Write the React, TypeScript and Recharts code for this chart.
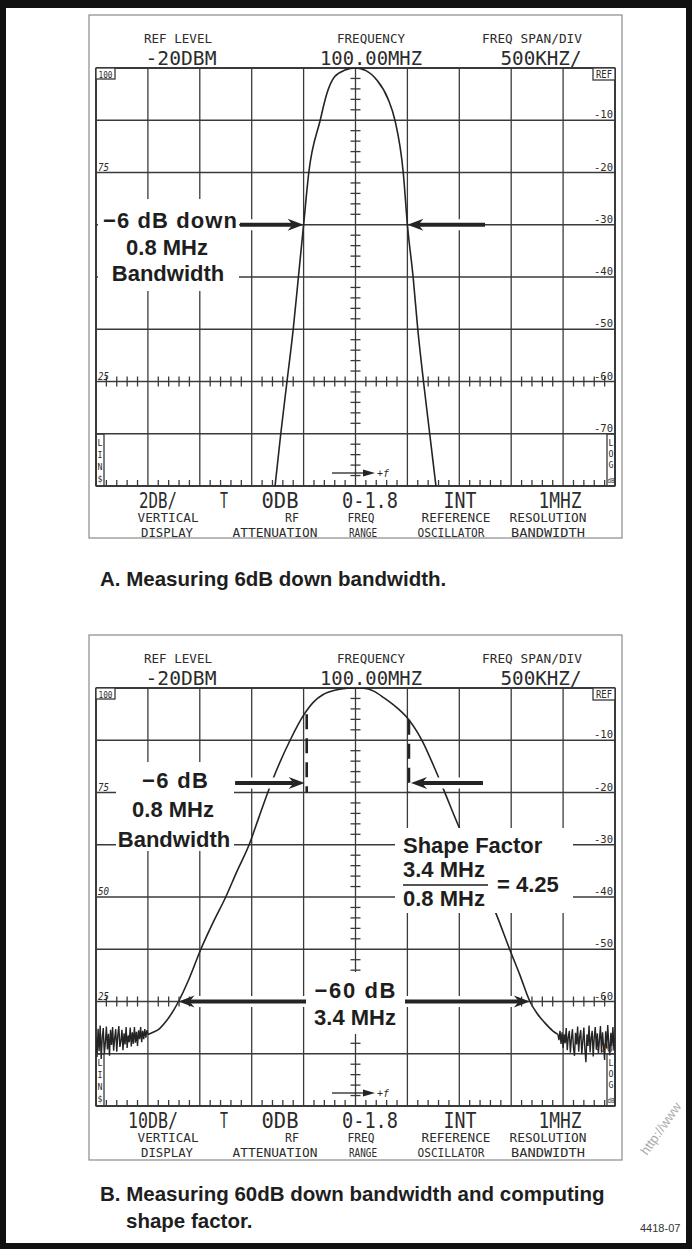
import React from 'react'
import { ComposedChart, Line, Scatter, XAxis, YAxis, ReferenceLine } from 'recharts'

document.body.style.margin = '0'

// centre 100.00 MHz, 500 kHz/div -> x is MHz away from centre
const FREQ_GRID = [-2.5, -2, -1.5, -1, -0.5, 0, 0.5, 1, 1.5, 2, 2.5]
const LEVEL_GRID_A = [0, -2, -4, -6, -8, -10, -12, -14, -16] // 2 dB/div
const LEVEL_GRID_B = [0, -10, -20, -30, -40, -50, -60, -70, -80] // 10 dB/div

const RIGHT_LABELS = ['-10', '-20', '-30', '-40', '-50', '-60', '-70']
const LEFT_LABELS = [
  { div: 2, text: '75' },
  { div: 4, text: '50' },
  { div: 6, text: '25' },
]

const HEADER_TITLES = ['REF LEVEL', 'FREQUENCY', 'FREQ SPAN/DIV']
const HEADER_VALUES = ['-20DBM', '100.00MHZ', '500KHZ/']
const SETTINGS_A = ['2DB/', 'T', '0DB', '0-1.8', 'INT', '1MHZ']
const SETTINGS_B = ['10DB/', 'T', '0DB', '0-1.8', 'INT', '1MHZ']
const NAMES_TOP = ['VERTICAL', 'RF', 'FREQ', 'REFERENCE', 'RESOLUTION']
const NAMES_BOTTOM = ['DISPLAY', 'ATTENUATION', 'RANGE', 'OSCILLATOR', 'BANDWIDTH']

// trace A (2 dB/div)
const TRACE_A_MHZ = [-0.775, -0.72, -0.66, -0.6, -0.55, -0.5, -0.45, -0.34, -0.275, -0.2, -0.1, 0,
  0.1, 0.205, 0.315, 0.38, 0.46, 0.5, 0.555, 0.6, 0.655, 0.715, 0.775]
const TRACE_A_DB = [-16, -14, -12, -10, -8, -6, -4, -2, -0.97, -0.33, -0.08, 0,
  -0.1, -0.46, -1.2, -2, -4, -6, -8, -10, -12, -14, -16]

// trace B (10 dB/div)
const TRACE_B_MHZ = [-2.0, -1.95, -1.9, -1.825, -1.75, -1.705, -1.6, -1.49, -1.375, -1.25, -1.14, -1.025, -0.935,
  -0.845, -0.76, -0.63, -0.5, -0.4, -0.315, -0.2, -0.08, 0, 0.08, 0.175, 0.275, 0.4, 0.5, 0.645, 0.77, 0.85,
  0.995, 1.075, 1.19, 1.29, 1.39, 1.485, 1.585, 1.68, 1.75, 1.82, 1.9, 1.95]
const TRACE_B_DB = [-66.3, -65.9, -65.4, -63.8, -61.6, -60, -55.5, -50, -45, -40, -35, -30, -25,
  -20, -15.7, -10, -5.2, -2.6, -1.3, -0.45, -0.05, 0, -0.05, -0.6, -1.9, -3.8, -5.75, -10.2, -15.7, -19.5,
  -26.5, -30, -35, -40, -45, -50, -55, -60, -62.3, -64, -65.6, -66.3]

// noise floor, one reading per 10 kHz bin
const NOISE_LEFT_START = -2.5
const NOISE_RIGHT_START = 1.95
const NOISE_STEP = 0.01
const NOISE_LEFT_DB = [-66.8, -70.6, -65.2, -69.5, -64.6, -71.0, -66.9, -65.1, -70.1, -67.9, -64.8, -69.2, -66.2,
  -70.4, -65.4, -68.3, -64.9, -69.4, -67.0, -65.3, -69.6, -66.5, -64.7, -68.7, -67.6, -65.4, -69.3, -66.1,
  -68.2, -64.9, -68.9, -66.5, -67.8, -65.0, -68.6, -65.9, -68.1, -64.9, -67.9, -65.8, -68.5, -65.5, -67.2,
  -64.9, -67.8, -65.6, -67.2, -65.3, -66.9, -65.5, -66.3]
const NOISE_RIGHT_DB = [-66.3, -67.4, -65.6, -68.1, -65.9, -68.9, -66.3, -68.0, -65.1, -69.3, -66.8, -65.6, -69.8,
  -67.2, -65.3, -68.9, -70.4, -66.0, -68.2, -64.8, -69.6, -66.7, -65.5, -70.1, -67.6, -65.0, -69.2, -71.6,
  -66.3, -68.5, -64.6, -69.7, -67.0, -65.6, -70.5, -66.8, -64.9, -69.1, -66.1, -70.0, -67.3, -64.7, -69.8,
  -65.9, -68.6, -71.2, -65.7, -69.0, -64.5, -68.1, -70.3, -66.0, -68.5, -64.9, -69.4, -67.0]

const INK = '#242424'
const GRID = '#3a3a3a'
const CRT_FONT = '"DejaVu Sans Mono", monospace'
const BOLD_FONT = '"Liberation Sans", Arial, sans-serif'

const W = 692
const CHART_H = 560
const MARGIN = { top: 68, left: 96, right: 77, bottom: 74 }
const DIV_H = 418 / 8

const zip = (xs: number[], ys: number[]) => xs.map((x, i) => ({ x, y: ys[i] }))
const noise = (start: number, ys: number[]) => ys.map((y, i) => ({ x: +(start + i * NOISE_STEP).toFixed(3), y }))

function minorTicks(bottom: number, row: number, step: number) {
  const out: { x: number; y: number; kind: string }[] = []
  for (let i = -25; i <= 25; i++) {
    if (i % 5 === 0) continue
    out.push({ x: i / 10, y: bottom, kind: 'b' })
    out.push({ x: i / 10, y: row, kind: 'r' })
  }
  for (let j = 0; j <= 40; j++) {
    if (j % 5 === 0) continue
    out.push({ x: 0, y: -j * step, kind: 'c' })
  }
  return out
}

const TickMark = (p: any) => {
  const { cx, cy, payload } = p
  if (payload.kind === 'c') return <line x1={cx - 5} x2={cx + 5} y1={cy} y2={cy} stroke={GRID} strokeWidth={1.3} />
  if (payload.kind === 'r') return <line x1={cx} x2={cx} y1={cy - 5} y2={cy + 5} stroke={GRID} strokeWidth={1.3} />
  return <line x1={cx} x2={cx} y1={cy - 6} y2={cy} stroke={GRID} strokeWidth={1.3} />
}

const Arrow = (p: any) => {
  const { x1, y1, x2, y2 } = p
  const len = Math.hypot(x2 - x1, y2 - y1) || 1
  const ux = (x2 - x1) / len, uy = (y2 - y1) / len
  const nx = -uy, ny = ux
  const head = 16, half = 6
  const bx = x2 - ux * head, by = y2 - uy * head
  const kx = x2 - ux * (head - 5), ky = y2 - uy * (head - 5)
  return (
    <g>
      <line x1={x1} y1={y1} x2={bx} y2={by} stroke="#fff" strokeWidth={11} />
      <line x1={x1} y1={y1} x2={kx} y2={ky} stroke={INK} strokeWidth={4} />
      <polygon points={`${x2},${y2} ${bx + nx * half},${by + ny * half} ${kx},${ky} ${bx - nx * half},${by - ny * half}`} fill={INK} />
    </g>
  )
}

function Grid(levels: number[]) {
  const lines = FREQ_GRID.map(v => (
    <ReferenceLine key={'x' + v} x={v} stroke={GRID} strokeWidth={v === -2.5 || v === 2.5 ? 2 : 1.3} />
  ))
  levels.forEach((v, i) => lines.push(
    <ReferenceLine key={'y' + v} y={v} stroke={GRID} strokeWidth={i === 0 || i === levels.length - 1 ? 2 : 1.3} />
  ))
  return lines
}

function ScreenA() {
  return (
    <ComposedChart width={W} height={CHART_H} margin={MARGIN}>
      <XAxis dataKey="x" type="number" domain={[-2.5, 2.5]} allowDataOverflow hide />
      <YAxis type="number" domain={[-16, 0]} allowDataOverflow hide />
      {Grid(LEVEL_GRID_A)}
      <Scatter data={minorTicks(-16, -12, 0.4)} dataKey="y" shape={TickMark} isAnimationActive={false} />
      <Line data={zip(TRACE_A_MHZ, TRACE_A_DB)} dataKey="y" type="monotone" stroke={INK} strokeWidth={1.6}
        dot={false} isAnimationActive={false} />
      <ReferenceLine segment={[{ x: -1.113, y: -6 }, { x: -0.5, y: -6 }]} shape={Arrow} zIndex={1500} />
      <ReferenceLine segment={[{ x: 1.248, y: -6 }, { x: 0.5, y: -6 }]} shape={Arrow} zIndex={1500} />
    </ComposedChart>
  )
}

function ScreenB() {
  return (
    <ComposedChart width={W} height={CHART_H} margin={MARGIN}>
      <XAxis dataKey="x" type="number" domain={[-2.5, 2.5]} allowDataOverflow hide />
      <YAxis type="number" domain={[-80, 0]} allowDataOverflow hide />
      {Grid(LEVEL_GRID_B)}
      <Scatter data={minorTicks(-80, -60, 2)} dataKey="y" shape={TickMark} isAnimationActive={false} />
      <Line data={noise(NOISE_LEFT_START, NOISE_LEFT_DB)} dataKey="y" type="linear" stroke={INK} strokeWidth={1.4}
        dot={false} isAnimationActive={false} />
      <Line data={zip(TRACE_B_MHZ, TRACE_B_DB)} dataKey="y" type="monotone" stroke={INK} strokeWidth={1.6}
        dot={false} isAnimationActive={false} />
      <Line data={noise(NOISE_RIGHT_START, NOISE_RIGHT_DB)} dataKey="y" type="linear" stroke={INK} strokeWidth={1.4}
        dot={false} isAnimationActive={false} />
      <ReferenceLine segment={[{ x: -0.47, y: -5 }, { x: -0.47, y: -20 }]} stroke={INK} strokeWidth={2.6} strokeDasharray="15 9" />
      <ReferenceLine segment={[{ x: 0.515, y: -6.1 }, { x: 0.515, y: -20 }]} stroke={INK} strokeWidth={2.6} strokeDasharray="15 9" />
      <ReferenceLine segment={[{ x: -1.16, y: -18.2 }, { x: -0.49, y: -18.2 }]} shape={Arrow} zIndex={1500} />
      <ReferenceLine segment={[{ x: 1.228, y: -18.2 }, { x: 0.535, y: -18.2 }]} shape={Arrow} zIndex={1500} />
      <ReferenceLine segment={[{ x: -0.47, y: -60 }, { x: -1.705, y: -60 }]} shape={Arrow} zIndex={1500} />
      <ReferenceLine segment={[{ x: 0.47, y: -60 }, { x: 1.68, y: -60 }]} shape={Arrow} zIndex={1500} />
    </ComposedChart>
  )
}

// layout of the instrument read-outs (centre x, width)
const HEADER_POS = [[178, 68], [371, 68], [532, 100]]
const VALUE_POS = [[181, 71], [371, 102], [541, 81]]
const SET_POS_A = [[158, 38], [224, 8], [280, 37], [370, 56], [460, 33], [560, 43]]
const SET_POS_B = [[153, 50], [224, 8], [280, 37], [370, 56], [460, 33], [560, 43]]
const TOP_POS = [[168, 61], [292, 14], [361, 27], [456, 69], [548, 77]]
const BOTTOM_POS = [[167, 52], [275, 85], [363, 28], [451, 67], [548, 74]]

function Crt({ x, y, w, size, children }: any) {
  return (
    <text x={x} y={y} textAnchor="middle" fontFamily={CRT_FONT} fontSize={size} fill="#2c2c2c"
      textLength={w} lengthAdjust="spacingAndGlyphs">{children}</text>
  )
}

function Frame({ o, settings, setPos }: { o: number; settings: string[]; setPos: number[][] }) {
  return (
    <g>
      <rect x={89} y={15 + o} width={533} height={o ? 525 : 523} fill="none" stroke="#8a8a8a" strokeWidth={1.2} />
      {HEADER_TITLES.map((t, i) => <Crt key={t} x={HEADER_POS[i][0]} y={43 + o} w={HEADER_POS[i][1]} size={13}>{t}</Crt>)}
      {HEADER_VALUES.map((t, i) => <Crt key={t} x={VALUE_POS[i][0]} y={65 + o} w={VALUE_POS[i][1]} size={20}>{t}</Crt>)}
      {settings.map((t, i) => <Crt key={i} x={setPos[i][0]} y={508 + o} w={setPos[i][1]} size={21}>{t}</Crt>)}
      {NAMES_TOP.map((t, i) => <Crt key={t} x={TOP_POS[i][0]} y={522 + o} w={TOP_POS[i][1]} size={12}>{t}</Crt>)}
      {NAMES_BOTTOM.map((t, i) => <Crt key={t} x={BOTTOM_POS[i][0]} y={537 + o} w={BOTTOM_POS[i][1]} size={12}>{t}</Crt>)}
      <rect x={96} y={68 + o} width={19} height={11} fill="#fff" stroke={GRID} strokeWidth={1.3} />
      <Crt x={105.5} y={77.5 + o} w={14} size={9}>100</Crt>
      <rect x={593} y={68 + o} width={22} height={12} fill="#fff" stroke={GRID} strokeWidth={1.3} />
      <Crt x={604} y={78 + o} w={16} size={10}>REF</Crt>
      {RIGHT_LABELS.map((t, i) => (
        <text key={t} x={613} y={68 + o + (i + 1) * DIV_H - 2} textAnchor="end" fontFamily={CRT_FONT} fontSize={10}
          fill="#2c2c2c" textLength={19} lengthAdjust="spacingAndGlyphs">{t}</text>
      ))}
      {LEFT_LABELS.map(l => (
        <text key={l.text} x={98} y={68 + o + l.div * DIV_H - 2} fontFamily={CRT_FONT} fontSize={10} fontStyle="italic"
          fill="#2c2c2c" textLength={11} lengthAdjust="spacingAndGlyphs">{l.text}</text>
      ))}
      <rect x={96} y={434 + o} width={8} height={52} fill="none" stroke={GRID} strokeWidth={1.3} />
      {['L', 'I', 'N', '$'].map((c, i) => <Crt key={c} x={100} y={446 + o + i * 12} w={5} size={8}>{c}</Crt>)}
      <rect x={607} y={434 + o} width={8} height={52} fill="none" stroke={GRID} strokeWidth={1.3} />
      {['L', 'O', 'G'].map((c, i) => <Crt key={c} x={611} y={446 + o + i * 11} w={5} size={8}>{c}</Crt>)}
      <Crt x={611} y={483 + o} w={7} size={7}>dB</Crt>
      <line x1={332} x2={364} y1={473 + o} y2={473 + o} stroke={INK} strokeWidth={1.3} />
      <polygon points={`${375},${473 + o} ${363},${469.5 + o} ${363},${476.5 + o}`} fill={INK} />
      <text x={377} y={477 + o} fontFamily={CRT_FONT} fontSize={10} fontStyle="italic" fill="#2c2c2c">+f</text>
    </g>
  )
}

function Bold({ x, y, anchor = 'middle', size = 22, len, children }: any) {
  return (
    <text x={x} y={y} textAnchor={anchor} fontFamily={BOLD_FONT} fontWeight="bold" fontSize={size} fill="#1e1e1e"
      textLength={len}>
      {children}
    </text>
  )
}

function Overlay() {
  return (
    <svg width={W} height={1249} style={{ position: 'absolute', left: 0, top: 0 }}>
      <rect x={2} y={2} width={688} height={1245} fill="none" stroke="#111" strokeWidth={8} />
      <rect x={0} y={0} width={W} height={8} fill="#111" />
      <Frame o={0} settings={SETTINGS_A} setPos={SET_POS_A} />
      <Frame o={620} settings={SETTINGS_B} setPos={SET_POS_B} />

      {/* panel A notes */}
      <rect x={98} y={199} width={141} height={92} fill="#fff" />
      <Bold x={170} y={228} len={134}>−6 dB down</Bold>
      <Bold x={167} y={255}>0.8 MHz</Bold>
      <Bold x={168} y={281}>Bandwidth</Bold>

      {/* panel B notes */}
      <rect x={116} y={762} width={118} height={89} fill="#fff" />
      <Bold x={175} y={788} len={66}>−6 dB</Bold>
      <Bold x={173} y={817}>0.8 MHz</Bold>
      <Bold x={174} y={847}>Bandwidth</Bold>

      <rect x={395} y={828} width={178} height={85} fill="#fff" />
      <Bold x={403} y={853} anchor="start">Shape Factor</Bold>
      <Bold x={403} y={877} anchor="start">3.4 MHz</Bold>
      <line x1={403} x2={488} y1={885} y2={885} stroke="#555" strokeWidth={2} />
      <Bold x={403} y={906} anchor="start">0.8 MHz</Bold>
      <Bold x={497} y={892} anchor="start">= 4.25</Bold>

      <rect x={306} y={972} width={99} height={62} fill="#fff" />
      <Bold x={355} y={998} len={81}>−60 dB</Bold>
      <Bold x={355} y={1025}>3.4 MHz</Bold>

      {/* captions */}
      <Bold x={100} y={586} anchor="start" size={20.5}>A.  Measuring 6dB down bandwidth.</Bold>
      <Bold x={100} y={1201} anchor="start" size={20.5}>B.  Measuring 60dB down bandwidth and computing</Bold>
      <Bold x={126} y={1228} anchor="start" size={20.5}>shape factor.</Bold>
      <text x={640} y={1232} fontFamily={BOLD_FONT} fontSize={11} fill="#333">4418-07</text>
      <text x={647} y={1156} transform="rotate(-55 647 1156)" fontFamily={BOLD_FONT} fontSize={13} fill="#aaa">http://www</text>
    </svg>
  )
}

export default function App() {
  return (
    <div style={{ position: 'relative', width: W, height: 1249, background: '#fff', overflow: 'hidden' }}>
      <div style={{ position: 'absolute', left: 0, top: 0 }}><ScreenA /></div>
      <div style={{ position: 'absolute', left: 0, top: 620 }}><ScreenB /></div>
      <Overlay />
    </div>
  )
}
